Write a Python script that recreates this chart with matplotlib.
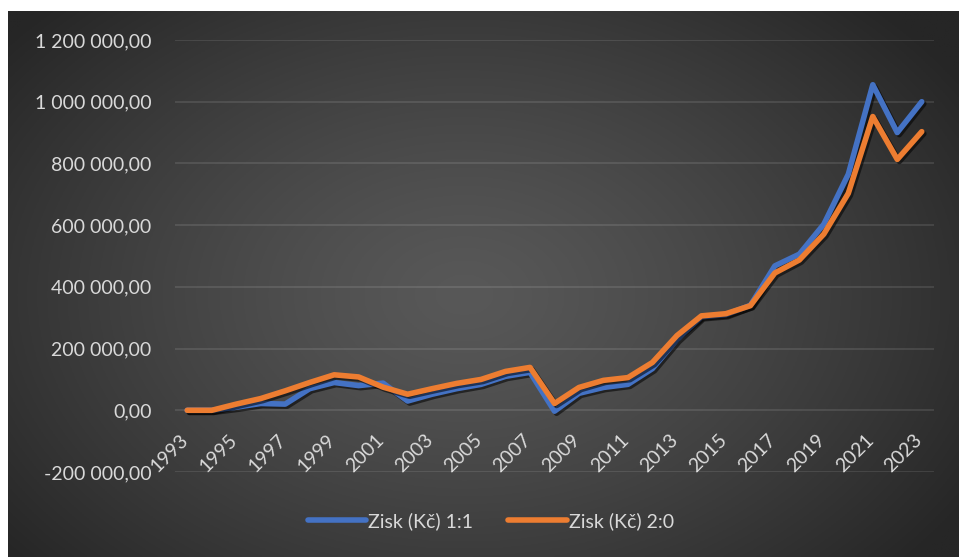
import numpy as np
import matplotlib
matplotlib.use("Agg")
import matplotlib.pyplot as plt
import matplotlib.patheffects as pe
import matplotlib.transforms as mtransforms
from matplotlib.ticker import FuncFormatter

# roky 1993 - 2023
roky = list(range(1993, 2024))

# Zisk (Kč) 1:1
zisk_11 = [0, 0, 10000, 22000, 20000, 70000, 90000, 80000, 88000, 30000,
           52000, 70000, 84000, 110000, 123000, -3000, 55000, 74000, 84000, 135000,
           229000, 303000, 310000, 340000, 468000, 506000, 603000, 765000, 1055000, 900000,
           1000000]

# Zisk (Kč) 2:0
zisk_20 = [0, 0, 20000, 38000, 63000, 90000, 115000, 108000, 75000, 52000,
           70000, 87000, 100000, 126000, 139000, 22000, 74000, 97000, 106000, 155000,
           242000, 306000, 313000, 339000, 445000, 487000, 571000, 703000, 952000, 813000,
           903000]

nazvy = ["Zisk (Kč) 1:1", "Zisk (Kč) 2:0"]
barvy = ["#4472C4", "#ED7D31"]

plt.rcParams['font.family'] = ['Lato', 'DejaVu Sans']
text_color = "#D9D9D9"

W, H = 959, 557
fig = plt.figure(figsize=(W / 100, H / 100), dpi=100)
fig.patch.set_facecolor("white")

# tmave pozadi s radialnim prechodem
bg = fig.add_axes([8 / W, 0, (W - 8) / W, (H - 11) / H])
bg.set_axis_off()
gx, gy = np.meshgrid(np.linspace(0, 1, 400), np.linspace(0, 1, 240))
r = np.sqrt(((gx - 0.48) / 0.62) ** 2 + ((gy - 0.52) / 0.75) ** 2)
r = np.clip(r, 0, 1)
light, dark = 0x58 / 255, 0x26 / 255
img = light + (dark - light) * r ** 1.3
bg.imshow(np.dstack([img, img, img]), aspect="auto", extent=[0, 1, 0, 1])
bg.set_xlim(0, 1)
bg.set_ylim(0, 1)

ax = fig.add_axes([175 / W, (H - 472) / H, 759 / W, 432 / H])
ax.patch.set_alpha(0)

x = np.arange(len(roky))
shadow = [pe.SimpleLineShadow(offset=(1.5, -1.5), shadow_color="black", alpha=0.55),
          pe.Normal()]
for data, nazev, barva in zip([zisk_11, zisk_20], nazvy, barvy):
    ax.plot(x, data, color=barva, lw=4, label=nazev,
            solid_capstyle="round", solid_joinstyle="round",
            path_effects=shadow)

ax.set_xlim(-0.5, len(roky) - 0.5)
ax.set_ylim(-200000, 1200000)
ax.set_yticks(np.arange(-200000, 1200001, 200000))


def cz_format(v, pos):
    s = "{:,.2f}".format(v)
    return s.replace(",", " ").replace(".", ",")


ax.yaxis.set_major_formatter(FuncFormatter(cz_format))
ax.grid(axis="y", color="white", alpha=0.12, lw=1.2)
ax.set_axisbelow(True)
for s in ax.spines.values():
    s.set_visible(False)
ax.spines["bottom"].set_position(("data", 0))

ax.set_xticks(x[::2])
ax.set_xticklabels([str(r) for r in roky[::2]], rotation=45, ha="right", va="top")
ax.tick_params(axis="x", length=0, pad=15, labelsize=14, labelcolor=text_color)
ax.tick_params(axis="y", length=0, pad=17, labelsize=14, labelcolor=text_color)
offset = mtransforms.ScaledTranslation(4 / 100, 0, fig.dpi_scale_trans)
for lbl in ax.get_xticklabels():
    lbl.set_transform(lbl.get_transform() + offset)

leg = fig.legend(loc="center", bbox_to_anchor=(491 / W, 1 - 521 / H), ncol=2,
                 frameon=False, fontsize=14, handlelength=3.0, handletextpad=0.1,
                 columnspacing=1.8)
for t in leg.get_texts():
    t.set_color(text_color)
for h in leg.legend_handles:
    h.set_solid_capstyle("round")
    h.set_path_effects([])

fig.savefig("out.png", dpi=100, facecolor=fig.get_facecolor())
